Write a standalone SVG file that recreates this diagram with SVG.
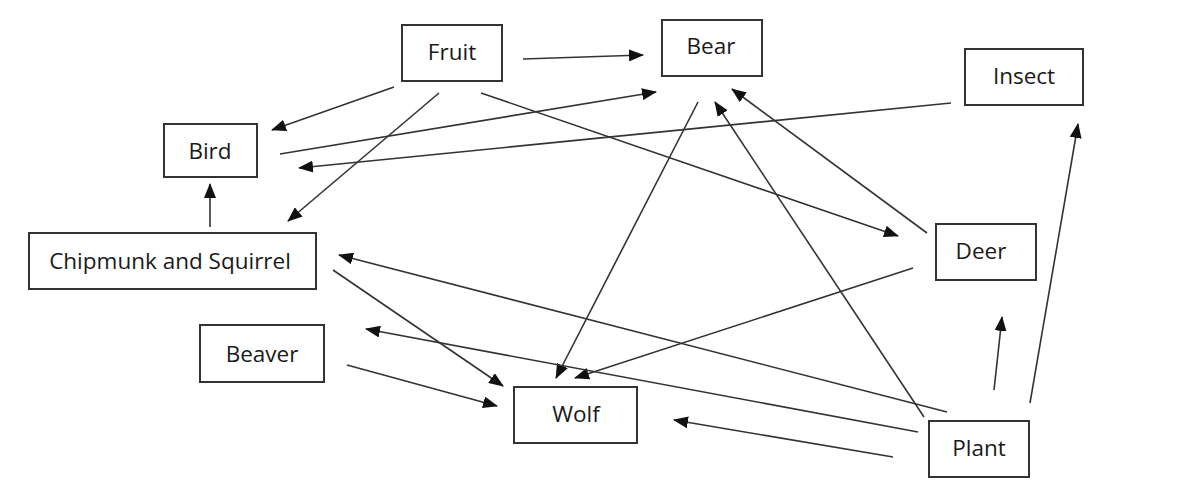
<svg xmlns="http://www.w3.org/2000/svg" width="1200" height="498" viewBox="0 0 1200 498">
  <style>
    .box { fill: #ffffff; stroke: #333333; stroke-width: 2; }
    .lbl { font-family: "Open Sans", "Noto Sans", sans-serif; font-size: 22.5px; fill: #1a1a1a; text-anchor: middle; }
    .edge { stroke: #333333; stroke-width: 1.6; fill: none; marker-end: url(#arr); }
  </style>
  <defs>
    <marker id="arr" viewBox="0 0 15 12" refX="14" refY="6" markerWidth="15" markerHeight="12" markerUnits="userSpaceOnUse" orient="auto">
      <path d="M0,0 L15,6 L0,12 z" fill="#111111"/>
    </marker>
  </defs>
  <rect width="1200" height="498" fill="#ffffff"/>

  <g id="connectors">
    <line class="edge" x1="523" y1="59" x2="643" y2="55"/>
    <line class="edge" x1="394" y1="87" x2="272" y2="130"/>
    <line class="edge" x1="439" y1="93" x2="288" y2="221"/>
    <line class="edge" x1="481" y1="93" x2="898" y2="236"/>
    <line class="edge" x1="280" y1="154" x2="656" y2="92"/>
    <line class="edge" x1="951" y1="103" x2="299" y2="168"/>
    <line class="edge" x1="210" y1="227" x2="210" y2="184"/>
    <line class="edge" x1="698" y1="102" x2="556" y2="378"/>
    <line class="edge" x1="924" y1="417" x2="715" y2="102"/>
    <line class="edge" x1="927" y1="233" x2="732" y2="89"/>
    <line class="edge" x1="913" y1="268" x2="575" y2="378"/>
    <line class="edge" x1="947" y1="412" x2="339" y2="255"/>
    <line class="edge" x1="918" y1="432" x2="366" y2="329"/>
    <line class="edge" x1="893" y1="457" x2="674" y2="420"/>
    <line class="edge" x1="994" y1="390" x2="1002" y2="317"/>
    <line class="edge" x1="1030" y1="403" x2="1078" y2="124"/>
    <line class="edge" x1="333" y1="270" x2="503" y2="386"/>
    <line class="edge" x1="347" y1="365" x2="497" y2="406"/>
  </g>

  <g id="node-fruit">
    <rect class="box" x="402" y="25" width="100" height="56"/>
    <text class="lbl" x="452" y="60">Fruit</text>
  </g>
  <g id="node-bear">
    <rect class="box" x="662" y="20" width="100" height="56"/>
    <text class="lbl" x="711" y="54">Bear</text>
  </g>
  <g id="node-insect">
    <rect class="box" x="965" y="49" width="118" height="56"/>
    <text class="lbl" x="1024" y="84">Insect</text>
  </g>
  <g id="node-bird">
    <rect class="box" x="164" y="124" width="93" height="53"/>
    <text class="lbl" x="210" y="159">Bird</text>
  </g>
  <g id="node-chipmunk">
    <rect class="box" x="29" y="233" width="287" height="56"/>
    <text class="lbl" x="170" y="269">Chipmunk and Squirrel</text>
  </g>
  <g id="node-deer">
    <rect class="box" x="936" y="224" width="100" height="56"/>
    <text class="lbl" x="981" y="259">Deer</text>
  </g>
  <g id="node-beaver">
    <rect class="box" x="200" y="325" width="124" height="57"/>
    <text class="lbl" x="262" y="362">Beaver</text>
  </g>
  <g id="node-wolf">
    <rect class="box" x="514" y="387" width="123" height="56"/>
    <text class="lbl" x="576" y="422">Wolf</text>
  </g>
  <g id="node-plant">
    <rect class="box" x="929" y="421" width="100" height="56"/>
    <text class="lbl" x="979" y="456">Plant</text>
  </g>
</svg>
